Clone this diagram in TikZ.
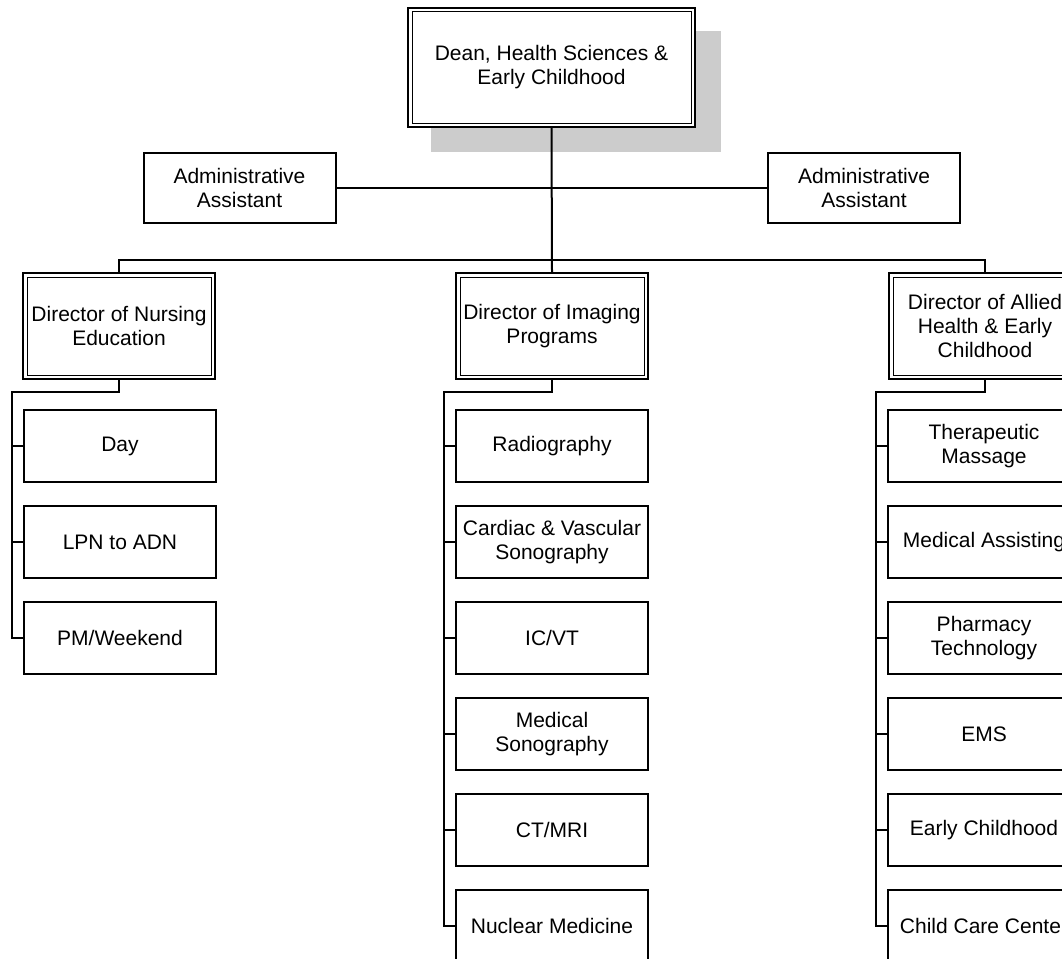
\documentclass[tikz,border=0pt]{standalone}
\usepackage{fontspec}
\setmainfont{Liberation Sans}
\begin{document}
\begin{tikzpicture}[x=1pt,y=-1pt,
  every node/.style={font={\fontsize{21}{24}\selectfont}, align=center, inner sep=0pt},
  box/.style={draw, line width=2pt, minimum width=192pt, minimum height=70pt, fill=white},
  dirbox/.style={draw, line width=2pt, minimum width=192pt, minimum height=106pt, fill=white},
  kidbox/.style={draw, line width=2pt, minimum width=192pt, minimum height=72pt, fill=white},
  conn/.style={line width=2pt},
  inner/.style={line width=1pt}]
\useasboundingbox (0,0) rectangle (1062,958);
\clip (0,0) rectangle (1062,958);

% shadow and dean
\fill[black!20] (431,31) rectangle (721,152);
\node[draw, line width=2pt, minimum width=287pt, minimum height=119pt, fill=white] (dean) at (551.5,67.5) {Dean, Health Sciences \&\\Early Childhood};
\draw[inner] ([xshift=5pt,yshift=-5pt]dean.north west) rectangle ([xshift=-5pt,yshift=5pt]dean.south east);

% admin assistants
\node[box] (adminL) at (239.5,187.5) {Administrative\\Assistant};
\node[box] (adminR) at (864,187.5) {Administrative\\Assistant};

% directors
\node[dirbox] (nurse) at (119,326) {Director of Nursing\\Education};
\node[dirbox] (imaging) at (552,326) {Director of Imaging\\Programs};
\node[dirbox] (allied) at (985,326) {Director of Allied\\Health \& Early\\Childhood};
\foreach \d in {nurse,imaging,allied}{
  \draw[inner] ([xshift=5pt,yshift=-5pt]\d.north west) rectangle ([xshift=-5pt,yshift=5pt]\d.south east);
}

% connectors top
\coordinate (bus) at (552,260);
\draw[conn] (dean.south) -- (imaging.north);
\draw[conn] (adminL.east) -- (adminR.west);
\draw[conn] (nurse.north) -- (nurse.north |- bus) -- (allied.north |- bus) -- (allied.north);

% nursing children
\node[kidbox] (n1) at (120,446) {Day};
\node[kidbox] (n2) at (120,542) {LPN to ADN};
\node[kidbox] (n3) at (120,638) {PM/Weekend};
\coordinate (nb) at (12,392);
\draw[conn] (nurse.south) |- (nb) -- (nb |- n3.west) -- (n3.west);
\draw[conn] (nb |- n1.west) -- (n1.west);
\draw[conn] (nb |- n2.west) -- (n2.west);

% imaging children
\node[kidbox] (i1) at (552,446) {Radiography};
\node[kidbox] (i2) at (552,542) {Cardiac \& Vascular\\Sonography};
\node[kidbox] (i3) at (552,638) {IC/VT};
\node[kidbox] (i4) at (552,734) {Medical\\Sonography};
\node[kidbox] (i5) at (552,830) {CT/MRI};
\node[kidbox] (i6) at (552,926) {Nuclear Medicine};
\coordinate (ib) at (444,392);
\draw[conn] (imaging.south) |- (ib) -- (ib |- i6.west) -- (i6.west);
\foreach \k in {i1,i2,i3,i4,i5}{ \draw[conn] (ib |- \k.west) -- (\k.west); }

% allied children
\node[kidbox] (a1) at (984,446) {Therapeutic\\Massage};
\node[kidbox] (a2) at (984,542) {Medical Assisting};
\node[kidbox] (a3) at (984,638) {Pharmacy\\Technology};
\node[kidbox] (a4) at (984,734) {EMS};
\node[kidbox] (a5) at (984,830) {Early Childhood};
\node[kidbox] (a6) at (984,926) {Child Care Center};
\coordinate (ab) at (876,392);
\draw[conn] (allied.south) |- (ab) -- (ab |- a6.west) -- (a6.west);
\foreach \k in {a1,a2,a3,a4,a5}{ \draw[conn] (ab |- \k.west) -- (\k.west); }
\end{tikzpicture}
\end{document}
